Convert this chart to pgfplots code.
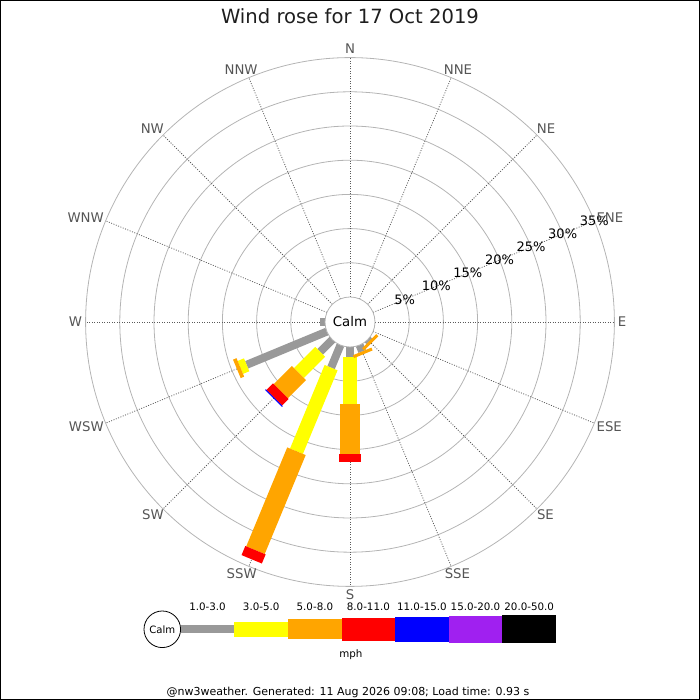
\documentclass[border=0pt]{standalone}
\usepackage{pgfplots}
\pgfplotsset{compat=1.18}
\usepackage{pgfplotstable}
\usepackage{fontspec}
\setmainfont{DejaVu Sans}

\definecolor{cgrey}{RGB}{153,153,153}
\definecolor{cyellow}{RGB}{255,255,0}
\definecolor{corange}{RGB}{255,165,0}
\definecolor{cred}{RGB}{255,0,0}
\definecolor{cblue}{RGB}{0,0,255}
\definecolor{cpurple}{RGB}{160,32,240}
\definecolor{ringc}{RGB}{180,180,180}
\definecolor{spokec}{RGB}{90,90,90}
\definecolor{labc}{RGB}{85,85,85}

% bearing (deg from N), start %, end % of each speed class segment
\pgfplotstableread{
b s e
270   0     0.75
247.5 0     12.7
225   0     2.5
202.5 0     3.57
180   0     1.4
157.5 0     1.0
135   0     0.3
}\tgrey
\pgfplotstableread{
b s e
247.5 12.7  13.7
225   2.5   6.9
202.5 3.57  16.8
180   1.4   8.33
}\tyellow
\pgfplotstableread{
b s e
247.5 13.7  14.25
225   6.9   10.65
202.5 16.8  32.46
180   8.33  15.64
157.5 1.0   1.45
135   0.3   0.75
}\torange
\pgfplotstableread{
b s e
225   10.65 12.0
202.5 32.46 33.9
180   15.64 16.85
}\tred
\pgfplotstableread{
b s e
225   12.0  12.15
}\tblue

\pgfplotsset{
  rosebar/.style={
    quiver={u={(\thisrow{e}-\thisrow{s})*6.84*sin(\thisrow{b})},
            v={(\thisrow{e}-\thisrow{s})*6.84*cos(\thisrow{b})}},
    mark=none, line cap=butt},
  table/rosetab/.style={x expr={(25+6.84*\thisrow{s})*sin(\thisrow{b})},
                  y expr={(25+6.84*\thisrow{s})*cos(\thisrow{b})}}
}

\begin{document}
\begin{tikzpicture}
\useasboundingbox (0,0) rectangle (700bp,700bp);
\begin{scope}[shift={(0,700bp)}, x=1bp, y=-1bp]
  \foreach \p in {5,10,...,35}{
    \draw[ringc, line width=0.8bp] (350,322) circle[radius={(25+6.84*\p)*1bp}];
  }
  \foreach \b in {0,22.5,...,337.5}{
    \draw[spokec, line width=0.75bp, dash pattern=on 1bp off 1.5bp]
      ({350+25*sin(\b)},{322-25*cos(\b)}) -- ({350+264.4*sin(\b)},{322-264.4*cos(\b)});
  }
\end{scope}

\begin{axis}[at={(0,0)}, anchor=south west, scale only axis,
  width=700bp, height=700bp, xmin=-350, xmax=350, ymin=-378, ymax=322,
  hide axis, clip=false]
  \addplot[rosebar, color=cgrey, line width=8bp] table[rosetab] {\tgrey};
  \addplot[rosebar, color=cyellow, line width=14bp] table[rosetab] {\tyellow};
  \addplot[rosebar, color=corange, line width=20bp] table[rosetab] {\torange};
  \addplot[rosebar, color=cred, line width=22bp] table[rosetab] {\tred};
  \addplot[rosebar, color=cblue, line width=24bp] table[rosetab] {\tblue};
\end{axis}

\begin{scope}[shift={(0,700bp)}, x=1bp, y=-1bp]
  % calm circle
  \draw[ringc, line width=0.8bp, fill=white] (350,322) circle[radius=25bp];
  \node[font=\fontsize{13.3bp}{16bp}\selectfont, text=black] at (350,322) {Calm};
  % percent labels
  \foreach \p in {5,10,...,35}{
    \node[font=\fontsize{13bp}{15bp}\selectfont, text=black, inner sep=0pt]
      at ({350+(25+6.84*\p)*0.92388},{322-(25+6.84*\p)*0.38268}) {\p\%};
  }
  % direction labels (bearing / text / half width)
  \foreach \b/\t/\hw in {0/N/4.97,22.5/NNE/14.15,45/NE/9.18,67.5/ENE/13.38,90/E/4.2,
                     112.5/ESE/12.63,135/SE/8.43,157.5/SSE/12.65,180/S/4.22,202.5/SSW/15.02,
                     225/SW/10.8,247.5/WSW/17.38,270/W/6.58,292.5/WNW/18.13,315/NW/11.55,
                     337.5/NNW/16.53}{
    \node[inner sep=0pt, text=labc, font=\fontsize{13.3bp}{16bp}\selectfont]
      at ({350+(268+\hw)*sin(\b)},{322-(268+4.85)*cos(\b)}) {\t};
  }
  % title
  \node[font=\fontsize{19.6bp}{23bp}\selectfont, text={rgb,255:red,30;green,30;blue,30}] at (350,16.5) {Wind rose for 17 Oct 2019};
  % legend
  \fill[cgrey]   (180.7,625.15) rectangle (234.3,633.45);
  \fill[cyellow] (234.3,621.8)  rectangle (288,636.8);
  \fill[corange] (288,619.15)   rectangle (341.7,639.45);
  \fill[cred]    (341.7,617.8)  rectangle (395,640.8);
  \fill[cblue]   (395,616.8)    rectangle (448.7,641.8);
  \fill[cpurple] (448.7,615.8)  rectangle (502.3,642.8);
  \fill[black]   (502.3,615.15) rectangle (556,643.45);
  \draw[black, line width=0.8bp, fill=white] (162.3,629.3) circle[radius=18.3bp];
  \node[font=\fontsize{10.1bp}{12bp}\selectfont] at (162.3,629.3) {Calm};
  \foreach \x/\t in {207.5/1.0-3.0, 261.2/3.0-5.0, 314.9/5.0-8.0, 368.4/8.0-11.0,
                     421.9/11.0-15.0, 475.5/15.0-20.0, 529.2/20.0-50.0}{
    \node[font=\fontsize{10.3bp}{12bp}\selectfont, inner sep=0pt] at (\x,606.5) {\t};
  }
  \node[font=\fontsize{10.3bp}{12bp}\selectfont, anchor=base, inner sep=0pt] at (350.8,658) {mph};
  % footer
  \node[font=\fontsize{11bp}{13bp}\selectfont, anchor=base, inner sep=0pt] at (348,696)
    {@nw3weather. Generated: 11 Aug 2026 09:08; Load time: 0.93 s};
  % frame
  \draw[black, line width=1bp] (0.5,0.5) rectangle (699.5,699.5);
\end{scope}
\end{tikzpicture}
\end{document}
